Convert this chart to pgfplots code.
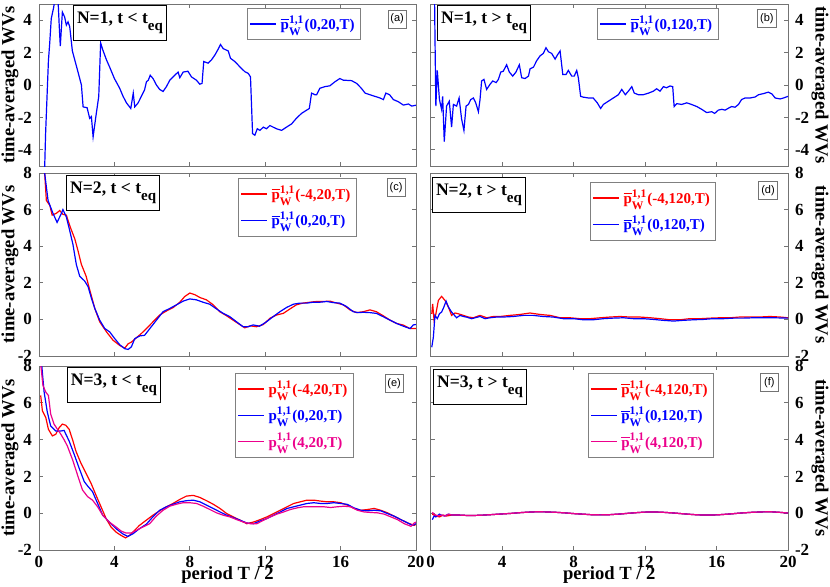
\documentclass[border=0pt]{standalone}
\usepackage{pgfplots}
\pgfplotsset{compat=1.18}
\usepackage{fontspec}
\setmainfont{Liberation Serif}
\setsansfont{Liberation Sans}
\definecolor{framegray}{rgb}{0.45,0.45,0.45}
\newcommand{\sm}{\fontsize{5.8}{6}\selectfont}
\newcommand{\pb}{$\overline{\mbox{p}}^{\mbox{\sm 1,1}}_{\mbox{\sm W}}$}
\newcommand{\pn}{$\mbox{p}^{\mbox{\sm 1,1}}_{\mbox{\sm W}}$}
\newcommand{\eqsub}{\raisebox{-3.5pt}{\fontsize{7.5}{8}\selectfont eq}}
\tikzset{
  titlebox/.style={draw=black, line width=0.5pt, fill=white, anchor=north west,
    font=\bfseries\fontsize{8.8}{10}\selectfont, inner xsep=1.8pt, inner ysep=3.2pt},
  plabel/.style={draw=framegray, line width=0.4pt, fill=white,
    font=\sffamily\fontsize{5.5}{6}\selectfont, inner sep=1.2pt, minimum width=9pt, minimum height=9pt},
}
\pgfplotsset{
  base/.style={
    scale only axis, xmin=0, xmax=20, xtick={0,4,...,20},
    axis line style={framegray, line width=0.4pt},
    every tick/.style={framegray, line width=0.4pt},
    major tick length=2pt,
    tick align=inside,
    ticklabel style={font=\bfseries\fontsize{8.5}{10}\selectfont, black},
    xticklabel style={yshift=0.5pt},
    /pgf/number format/assume math mode=true,
    ylabel={time-averaged WVs},
    every axis x label/.style={at={(axis description cs:0.5,0)}, yshift=-12.5pt, anchor=center,
      font=\bfseries\fontsize{9.3}{11}\selectfont},
    legend cell align=left,
    legend style={draw=gray, line width=0.4pt, fill=white,
      font=\bfseries\fontsize{7.5}{9}\selectfont, inner xsep=1pt, inner ysep=1.5pt,
      anchor=north west, row sep=0.5pt},
    legend image code/.code={\draw[#1] (0pt,0pt) -- (13pt,0pt);},
    every axis plot/.append style={line width=0.6pt},
  },
  L/.style={base, width=188.5pt,
    every axis y label/.style={at={(axis description cs:0,0.5)}, xshift=-14.5pt, rotate=90, anchor=center,
      font=\bfseries\fontsize{9.3}{11}\selectfont}},
  R/.style={base, width=178.75pt, yticklabel pos=right,
    every axis y label/.style={at={(axis description cs:1,0.5)}, xshift=16pt, rotate=-90, anchor=center,
      font=\bfseries\fontsize{9.3}{11}\selectfont}},
  top/.style={height=81pt, ymin=-5, ymax=5, ytick={-4,-2,...,4}, xticklabels={}},
  mid/.style={height=91.5pt, ymin=-2, ymax=8, ytick={-2,0,...,8}, xticklabels={}},
  bot/.style={height=92pt, ymin=-2, ymax=8, ytick={-2,0,...,8}, xlabel={period T / 2}},
}
\begin{document}
\begin{tikzpicture}
\useasboundingbox (0,0) rectangle (415pt,-293pt);
% ---------------- (a)
\begin{axis}[L, top, at={(19.5pt,-2pt)}, anchor=north west,
  legend style={at={(0.552,0.975)}}]
\addplot[blue] coordinates {(0.28,-6) (0.35,-3) (0.5,1.5) (0.57,2.6) (0.65,4.1) (0.78,4.8) (0.88,5.6) (1.0,5.5) (1.08,3.5) (1.13,2.4) (1.24,4.5) (1.36,4.2) (1.45,3.7) (1.54,3.9) (1.63,3.6) (1.77,2.1) (2.07,0.8) (2.25,0) (2.34,-1.35) (2.55,-1.4) (2.69,-2.06) (2.78,-1.95) (2.87,-3.2) (3.04,-1.75) (3.17,-0.7) (3.27,2.6) (3.39,2.15) (3.58,1.55) (3.75,1.1) (4.0,0.4) (4.28,-0.2) (4.46,-0.7) (4.64,-1.1) (4.87,-1.45) (5.0,-0.5) (5.08,-1.35) (5.26,-1.1) (5.43,-0.7) (5.6,-0.3) (5.7,0.2) (5.8,0.3) (5.9,0.6) (6.05,0.4) (6.23,0) (6.4,-0.27) (6.58,-0.4) (6.76,-0.1) (6.94,0.3) (7.2,0.6) (7.38,0.8) (7.47,0.45) (7.65,0.8) (7.9,0.85) (8.09,0.5) (8.35,0.3) (8.53,0.05) (8.65,0.1) (8.74,1.45) (8.97,1.35) (9.15,1.55) (9.33,1.85) (9.5,2.2) (9.63,2.5) (9.77,2.25) (10.04,2.1) (10.16,1.65) (10.39,1.45) (10.65,1.13) (10.92,0.82) (11.1,0.72) (11.22,0.5) (11.33,-3.0) (11.45,-3.1) (11.58,-2.7) (11.72,-2.8) (11.9,-2.6) (12.07,-2.7) (12.25,-2.5) (12.42,-2.6) (12.6,-2.7) (12.87,-2.8) (13.13,-2.6) (13.4,-2.4) (13.66,-2.05) (13.93,-1.75) (14.2,-1.55) (14.34,-1.45) (14.46,-0.5) (14.64,-0.6) (14.73,-0.6) (14.9,-0.2) (15.17,-0.1) (15.43,-0.05) (15.7,0.2) (15.96,0.4) (16.14,0.3) (16.58,0.27) (16.85,0.1) (17.1,-0.2) (17.3,-0.5) (17.56,-0.6) (17.82,-0.7) (18.09,-0.8) (18.27,-0.9) (18.4,-0.5) (18.6,-0.6) (18.8,-0.9) (19.06,-1.03) (19.33,-1.24) (19.6,-1.17) (19.77,-1.3) (20,-1.25)};
\addlegendentry{\textcolor{blue}{\pb(0,20,T)}}
\node[titlebox] at (rel axis cs:0.09,0.994) {N=1, t < t\eqsub};
\node[plabel] at (rel axis cs:0.95,0.907) {(a)};
\end{axis}
% ---------------- (b)
\begin{axis}[R, top, at={(215.25pt,-2pt)}, anchor=north west,
  legend style={at={(0.466,0.975)}}]
\addplot[blue] coordinates {(0.22,6) (0.25,3) (0.3,-1.3) (0.38,0.9) (0.5,-0.9) (0.62,-1.5) (0.68,-0.7) (0.77,-3.5) (0.9,-1.3) (1.05,-1.0) (1.18,-2.6) (1.28,-1.2) (1.46,-1.3) (1.6,-0.8) (1.74,-2.1) (1.87,-2.8) (1.99,-1.3) (2.12,-1.2) (2.25,-0.9) (2.4,-0.8) (2.53,-1.1) (2.68,-1.65) (2.77,-0.9) (2.86,0.25) (2.99,0.35) (3.14,-0.27) (3.33,0.04) (3.48,0.25) (3.67,0.15) (3.8,0.35) (3.93,0.8) (4.07,0.85) (4.26,1.25) (4.41,0.8) (4.6,0.55) (4.78,0.8) (4.97,1.25) (5.1,0.45) (5.29,0.4) (5.48,0.55) (5.57,1.0) (5.76,1.1) (5.94,1.5) (6.13,1.8) (6.31,1.95) (6.46,2.3) (6.6,2.05) (6.78,1.95) (6.97,1.6) (7.1,1.85) (7.25,2.1) (7.4,0.65) (7.58,0.65) (7.71,0.9) (7.9,0.55) (8.04,0.55) (8.18,0.9) (8.27,0.45) (8.4,-0.7) (8.55,-0.75) (8.83,-0.8) (9.1,-0.8) (9.33,-1.1) (9.52,-1.45) (9.67,-1.2) (9.95,-1.0) (10.23,-0.8) (10.51,-0.6) (10.7,-0.27) (10.9,-0.6) (11.07,-0.38) (11.26,-0.1) (11.4,-0.5) (11.63,-0.6) (11.9,-0.6) (12.2,-0.5) (12.47,-0.38) (12.65,-0.23) (12.84,-0.38) (13.03,-0.1) (13.2,-0.17) (13.4,-0.06) (13.55,-0.1) (13.63,-1.33) (13.78,-1.15) (14.05,-1.2) (14.34,-1.1) (14.6,-1.2) (14.9,-1.33) (15.17,-1.5) (15.45,-1.7) (15.73,-1.65) (15.9,-1.75) (16.1,-1.55) (16.3,-1.5) (16.48,-1.55) (16.67,-1.43) (16.85,-1.33) (17.04,-1.37) (17.23,-1.2) (17.4,-0.9) (17.6,-0.8) (17.88,-0.8) (18.16,-0.74) (18.35,-0.6) (18.63,-0.53) (18.9,-0.44) (19.1,-0.55) (19.28,-0.8) (19.56,-0.86) (19.75,-0.8) (20,-0.7)};
\addlegendentry{\textcolor{blue}{\pb(0,120,T)}}
\node[titlebox] at (rel axis cs:0.018,0.994) {N=1, t > t\eqsub};
\node[plabel] at (rel axis cs:0.941,0.91) {(b)};
\end{axis}
% ---------------- (c)
\begin{axis}[L, mid, at={(19.5pt,-86.5pt)}, anchor=north west,
  legend style={at={(0.528,0.973)}}]
\addplot[red] coordinates {(0.12,8.1) (0.3,8.0) (0.39,6.5) (0.57,6.24) (0.7,5.7) (0.92,5.8) (1.1,5.95) (1.27,5.74) (1.45,5.7) (1.66,5.04) (1.9,4.4) (2.07,3.75) (2.25,3.0) (2.5,2.36) (2.69,1.62) (2.96,0.6) (3.22,-0.13) (3.58,-0.68) (3.93,-1.14) (4.28,-1.42) (4.55,-1.57) (4.73,-1.33) (4.9,-1.24) (5.17,-1.0) (5.43,-0.77) (5.7,-0.5) (6.05,-0.13) (6.4,0.24) (6.76,0.46) (7.12,0.65) (7.47,0.94) (7.73,1.25) (8.0,1.44) (8.27,1.35) (8.53,1.2) (8.88,1.07) (9.24,0.8) (9.59,0.42) (9.95,0.2) (10.3,-0.04) (10.65,-0.28) (10.92,-0.46) (11.2,-0.35) (11.54,-0.4) (11.9,-0.28) (12.25,0.06) (12.6,0.24) (12.96,0.33) (13.31,0.57) (13.66,0.8) (14.0,0.89) (14.37,0.94) (14.73,0.98) (15.1,0.98) (15.43,1.0) (15.8,0.89) (16.14,0.8) (16.5,0.52) (16.85,0.37) (17.2,0.42) (17.56,0.52) (17.9,0.42) (18.26,0.2) (18.62,-0.04) (18.97,-0.22) (19.33,-0.31) (19.68,-0.5) (20,-0.5)};
\addlegendentry{\textcolor{red}{\pb(-4,20,T)}}
\addplot[blue] coordinates {(0.18,8.5) (0.3,8.0) (0.48,6.5) (0.74,5.8) (0.96,5.3) (1.19,5.8) (1.27,6.0) (1.45,5.6) (1.63,4.85) (1.8,4.1) (1.98,3.0) (2.16,2.36) (2.42,2.1) (2.6,1.8) (2.78,1.16) (2.96,0.6) (3.22,-0.04) (3.49,-0.5) (3.75,-0.68) (4.02,-1.05) (4.28,-1.38) (4.55,-1.6) (4.73,-1.64) (4.9,-1.5) (5.08,-1.05) (5.35,-0.9) (5.6,-0.87) (5.88,-0.5) (6.23,-0.04) (6.58,0.42) (6.94,0.6) (7.3,0.8) (7.65,1.0) (8.0,1.12) (8.35,1.07) (8.7,0.94) (9.06,0.83) (9.42,0.57) (9.77,0.33) (10.12,0.15) (10.48,-0.13) (10.83,-0.4) (11.1,-0.4) (11.36,-0.3) (11.7,-0.37) (12.07,-0.13) (12.42,0.15) (12.78,0.42) (13.13,0.65) (13.49,0.83) (13.84,0.89) (14.2,0.89) (14.55,0.94) (14.9,0.94) (15.26,0.98) (15.6,0.92) (15.96,0.89) (16.32,0.7) (16.67,0.42) (16.94,0.37) (17.2,0.39) (17.56,0.37) (17.9,0.33) (18.26,0.15) (18.62,-0.04) (18.97,-0.22) (19.33,-0.37) (19.68,-0.5) (19.86,-0.3) (20,-0.28)};
\addlegendentry{\textcolor{blue}{\pb(0,20,T)}}
\node[titlebox] at (rel axis cs:0.072,0.989) {N=2, t < t\eqsub};
\node[plabel] at (rel axis cs:0.947,0.921) {(c)};
\end{axis}
% ---------------- (d)
\begin{axis}[R, mid, at={(215.25pt,-86.5pt)}, anchor=north west,
  legend style={at={(0.446,0.951)}}]
\addplot[red] coordinates {(0.07,0.3) (0.12,0.85) (0.2,-0.05) (0.3,0.3) (0.44,1.04) (0.62,1.26) (0.81,1.04) (1.0,0.68) (1.18,0.22) (1.37,0.35) (1.55,0.31) (1.84,0.22) (2.12,0.13) (2.4,0.09) (2.77,0.22) (3.15,0.09) (3.52,0.16) (3.9,0.16) (4.45,0.22) (5.0,0.27) (5.57,0.35) (6.13,0.27) (6.69,0.22) (7.25,0.09) (7.8,0.09) (8.37,0.04) (8.93,0.04) (9.5,0.09) (10.05,0.13) (10.6,0.16) (11.17,0.13) (11.7,0.13) (12.3,0.09) (12.85,0.04) (13.4,-0.02) (13.96,-0.02) (14.5,0.04) (15.1,0.04) (15.65,0.07) (16.2,0.09) (16.76,0.09) (17.3,0.13) (17.88,0.13) (18.4,0.13) (19.0,0.16) (19.56,0.13) (20,0.09)};
\addlegendentry{\textcolor{red}{\pb(-4,120,T)}}
\addplot[blue] coordinates {(0.07,-1.52) (0.16,-0.97) (0.25,0.22) (0.38,0.04) (0.5,0.31) (0.62,0.4) (0.75,0.68) (0.87,1.0) (1.0,0.68) (1.18,0.4) (1.46,0.09) (1.65,0.22) (1.84,0.16) (2.0,0.13) (2.3,0.04) (2.5,0.09) (2.77,0.16) (3.05,0.04) (3.33,0.09) (3.7,0.13) (4.07,0.13) (4.63,0.16) (5.2,0.22) (5.75,0.22) (6.3,0.16) (6.87,0.13) (7.43,0.04) (8.0,0.04) (8.55,-0.02) (9.1,-0.02) (9.67,0.04) (10.2,0.07) (10.8,0.09) (11.35,0.04) (11.9,0.04) (12.47,0) (13.0,-0.05) (13.6,-0.09) (14.15,-0.05) (14.7,-0.02) (15.27,0) (15.8,0.04) (16.4,0.04) (16.95,0.07) (17.5,0.07) (18.07,0.09) (18.63,0.09) (19.2,0.09) (20,0.07)};
\addlegendentry{\textcolor{blue}{\pb(0,120,T)}}
\node[titlebox] at (rel axis cs:0.004,0.978) {N=2, t > t\eqsub};
\node[plabel] at (rel axis cs:0.944,0.904) {(d)};
\end{axis}
% ---------------- (e)
\begin{axis}[L, bot, at={(19.5pt,-183pt)}, anchor=north west,
  legend style={at={(0.52,0.962)}}]
\addplot[red] coordinates {(0.09,6.4) (0.18,5.57) (0.36,5.2) (0.5,4.56) (0.71,4.2) (0.89,4.29) (1.07,4.65) (1.24,4.84) (1.42,4.78) (1.6,4.56) (1.78,4.0) (1.96,3.37) (2.22,2.73) (2.49,2.18) (2.76,1.63) (3.02,0.99) (3.29,0.35) (3.56,-0.29) (3.82,-0.75) (4.09,-1.03) (4.36,-1.21) (4.59,-1.34) (4.8,-1.21) (5.07,-0.93) (5.33,-0.66) (5.69,-0.38) (6.04,-0.11) (6.4,0.13) (6.76,0.35) (7.11,0.53) (7.47,0.75) (7.82,0.93) (8.18,0.97) (8.53,0.86) (8.89,0.68) (9.24,0.49) (9.6,0.26) (9.96,-0.02) (10.31,-0.2) (10.67,-0.38) (11.02,-0.57) (11.38,-0.48) (11.73,-0.35) (12.09,-0.2) (12.44,-0.02) (12.8,0.16) (13.16,0.35) (13.51,0.53) (13.87,0.62) (14.22,0.71) (14.58,0.71) (14.93,0.66) (15.29,0.62) (15.64,0.62) (16.0,0.57) (16.36,0.44) (16.71,0.26) (17.07,0.16) (17.42,0.2) (17.78,0.26) (18.13,0.16) (18.49,0.02) (18.84,-0.16) (19.2,-0.35) (19.56,-0.53) (19.91,-0.66) (20,-0.6)};
\addlegendentry{\textcolor{red}{\pn(-4,20,T)}}
\addplot[blue] coordinates {(0.14,8.1) (0.27,6.6) (0.44,5.5) (0.62,4.74) (0.89,4.47) (1.16,4.47) (1.33,4.5) (1.6,3.92) (1.87,3.19) (2.13,2.45) (2.4,1.72) (2.58,1.48) (2.84,1.17) (3.11,0.53) (3.38,-0.11) (3.73,-0.48) (4.09,-0.84) (4.44,-1.12) (4.71,-1.26) (4.98,-1.12) (5.33,-0.84) (5.69,-0.6) (6.04,-0.2) (6.4,0.16) (6.76,0.35) (7.11,0.49) (7.47,0.62) (7.82,0.68) (8.18,0.71) (8.53,0.62) (8.89,0.44) (9.24,0.26) (9.6,0.07) (9.96,-0.11) (10.31,-0.24) (10.67,-0.38) (11.02,-0.53) (11.38,-0.57) (11.73,-0.42) (12.09,-0.29) (12.44,-0.11) (12.8,0.07) (13.16,0.26) (13.51,0.35) (13.87,0.44) (14.22,0.53) (14.58,0.57) (14.93,0.53) (15.29,0.53) (15.64,0.57) (16.0,0.53) (16.36,0.48) (16.71,0.29) (17.07,0.16) (17.42,0.13) (17.78,0.16) (18.13,0.13) (18.49,-0.02) (18.84,-0.16) (19.2,-0.35) (19.56,-0.53) (19.82,-0.66) (20,-0.57)};
\addlegendentry{\textcolor{blue}{\pn(0,20,T)}}
\addplot[magenta] coordinates {(0.09,8.1) (0.21,6.94) (0.36,6.58) (0.5,6.4) (0.62,5.39) (0.8,4.84) (0.98,4.56) (1.16,4.29) (1.33,4.0) (1.51,3.64) (1.78,2.91) (2.04,2.09) (2.31,1.26) (2.58,0.9) (2.84,0.71) (3.11,0.35) (3.38,-0.11) (3.73,-0.48) (4.09,-0.75) (4.36,-0.97) (4.62,-1.08) (4.89,-1.08) (5.16,-0.93) (5.51,-0.75) (5.87,-0.57) (6.22,-0.16) (6.58,0.16) (6.93,0.38) (7.29,0.49) (7.64,0.57) (8.0,0.57) (8.36,0.53) (8.71,0.38) (9.07,0.2) (9.42,0.02) (9.78,-0.11) (10.13,-0.2) (10.49,-0.35) (10.84,-0.48) (11.2,-0.57) (11.56,-0.57) (11.91,-0.38) (12.27,-0.2) (12.62,-0.05) (12.98,0.07) (13.33,0.2) (13.69,0.29) (14.04,0.35) (14.4,0.35) (14.76,0.35) (15.11,0.35) (15.47,0.31) (15.82,0.35) (16.18,0.38) (16.53,0.35) (16.89,0.16) (17.24,0.07) (17.6,0.04) (17.96,0.02) (18.31,-0.05) (18.67,-0.2) (19.02,-0.35) (19.38,-0.57) (19.73,-0.71) (19.91,-0.53) (20,-0.48)};
\addlegendentry{\textcolor{magenta}{\pn(4,20,T)}}
\node[titlebox] at (rel axis cs:0.074,0.995) {N=3, t < t\eqsub};
\node[plabel] at (rel axis cs:0.942,0.905) {(e)};
\end{axis}
% ---------------- (f)
\begin{axis}[R, bot, at={(215.25pt,-183pt)}, anchor=north west,
  legend style={at={(0.44,0.962)}}]
\addplot[red] coordinates {(0.1,-0.05) (0.3,-0.15) (0.5,-0.2) (0.7,-0.1) (0.9,-0.15) (1.2,-0.1) (1.6,-0.1) (2,-0.12) (2.5,-0.12) (3,-0.1) (3.5,-0.07) (4,-0.04) (4.5,-0.01) (5,0.03) (5.5,0.06) (6,0.08) (6.5,0.07) (7,0.05) (7.5,0.02) (8,-0.02) (8.5,-0.05) (9,-0.08) (9.5,-0.09) (10,-0.08) (10.5,-0.05) (11,-0.01) (11.5,0.03) (12,0.06) (12.5,0.07) (13,0.05) (13.5,0.02) (14,-0.02) (14.5,-0.06) (15,-0.09) (15.5,-0.1) (16,-0.09) (16.5,-0.06) (17,-0.02) (17.5,0.02) (18,0.05) (18.5,0.07) (19,0.08) (19.5,0.05) (20,0.01)};
\addlegendentry{\textcolor{red}{\pb(-4,120,T)}}
\addplot[blue] coordinates {(0.1,-0.35) (0.2,-0.15) (0.3,-0.2) (0.5,-0.05) (0.6,-0.1) (0.8,-0.15) (1,-0.05) (1.2,-0.1) (1.6,-0.1) (2,-0.12) (2.5,-0.12) (3,-0.1) (3.5,-0.07) (4,-0.04) (4.5,-0.01) (5,0.03) (5.5,0.06) (6,0.08) (6.5,0.07) (7,0.05) (7.5,0.02) (8,-0.02) (8.5,-0.05) (9,-0.08) (9.5,-0.09) (10,-0.08) (10.5,-0.05) (11,-0.01) (11.5,0.03) (12,0.06) (12.5,0.07) (13,0.05) (13.5,0.02) (14,-0.02) (14.5,-0.06) (15,-0.09) (15.5,-0.1) (16,-0.09) (16.5,-0.06) (17,-0.02) (17.5,0.02) (18,0.05) (18.5,0.07) (19,0.08) (19.5,0.05) (20,0.01)};
\addlegendentry{\textcolor{blue}{\pb(0,120,T)}}
\addplot[magenta] coordinates {(0.1,0.05) (0.2,-0.05) (0.4,-0.15) (0.6,-0.1) (0.8,-0.15) (1.0,-0.05) (1.2,-0.1) (1.6,-0.1) (2,-0.12) (2.5,-0.12) (3,-0.1) (3.5,-0.07) (4,-0.04) (4.5,-0.01) (5,0.03) (5.5,0.06) (6,0.08) (6.5,0.07) (7,0.05) (7.5,0.02) (8,-0.02) (8.5,-0.05) (9,-0.08) (9.5,-0.09) (10,-0.08) (10.5,-0.05) (11,-0.01) (11.5,0.03) (12,0.06) (12.5,0.07) (13,0.05) (13.5,0.02) (14,-0.02) (14.5,-0.06) (15,-0.09) (15.5,-0.1) (16,-0.09) (16.5,-0.06) (17,-0.02) (17.5,0.02) (18,0.05) (18.5,0.07) (19,0.08) (19.5,0.05) (20,0.01)};
\addlegendentry{\textcolor{magenta}{\pb(4,120,T)}}
\node[titlebox] at (rel axis cs:0.007,0.984) {N=3, t > t\eqsub};
\node[plabel] at (rel axis cs:0.948,0.91) {(f)};
\end{axis}
\end{tikzpicture}
\end{document}
